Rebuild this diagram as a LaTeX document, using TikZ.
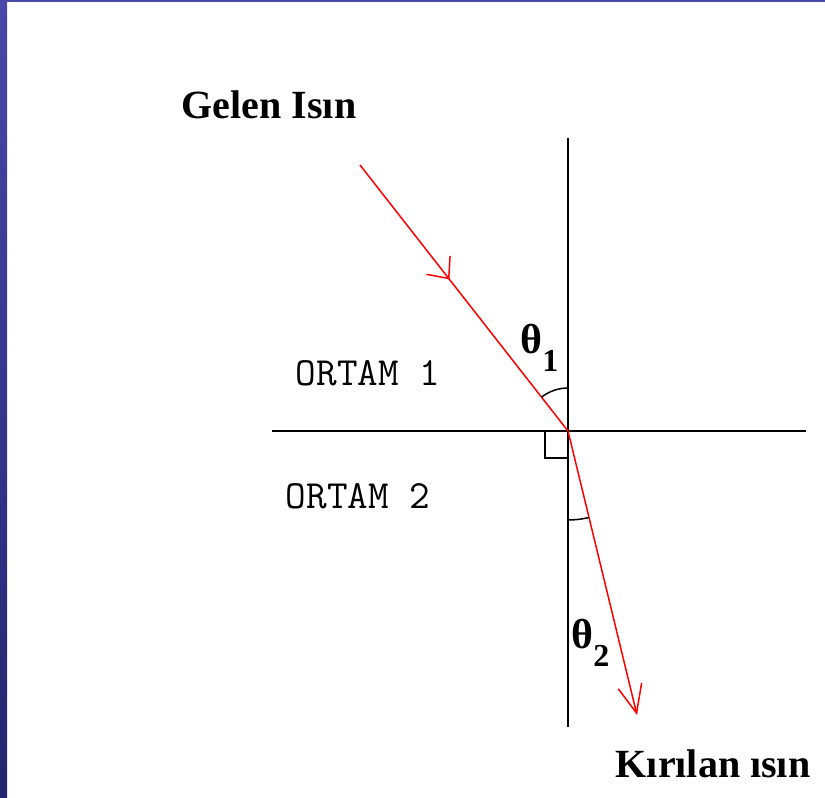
\documentclass[tikz,border=0pt]{standalone}
\usepackage{fontspec}
\setmainfont{Liberation Serif}
\usetikzlibrary{arrows.meta,decorations.markings,calc}
\definecolor{frameblue}{HTML}{4848A8}
\definecolor{framedark}{HTML}{242470}
\definecolor{rayred}{HTML}{FF0000}

\begin{document}
\begin{tikzpicture}[x=0.5pt,y=-0.5pt,
      bigtxt/.style={font=\fontsize{20}{22}\selectfont\bfseries,inner sep=0pt,anchor=base},
      medtxt/.style={font=\fontsize{20}{22}\selectfont\ttfamily,inner sep=0pt,anchor=base},
      angtxt/.style={font=\fontsize{21}{23}\selectfont\bfseries,inner sep=0pt,anchor=base west},
      axisline/.style={black,line width=1pt},
      ray/.style={rayred,line width=0.75pt},
      barb/.style={-{Straight Barb[length=14pt,width=12pt]}},
      midbarb/.style={postaction={decorate,decoration={markings,
                  mark=at position 0.43 with {\arrow{Straight Barb[length=8.5pt,width=15pt]}}}}},
      anglearc/.style={black,line width=0.75pt}]
    \useasboundingbox (0,0) rectangle (825,798);
    \fill[white] (0,0) rectangle (825,798);
    \shade[top color=frameblue,bottom color=framedark] (0,0) rectangle (7,798);
    \fill[frameblue] (0,0) rectangle (825,2);

    \coordinate (o) at (568,431);
    \coordinate (ntop) at (568,138);
    \coordinate (nbot) at (568,727);
    \coordinate (ileft) at (272,431);
    \coordinate (iright) at (806,431);
    \coordinate (src) at (360,165);
    \coordinate (dst) at (637,715);

    \draw[axisline] (ntop) -- (nbot);
    \draw[axisline] (ileft) -- (iright);
    \draw[axisline,line width=0.75pt] (545,431) |- (568,458);

    \draw[ray,midbarb] (src) -- (o);
    \draw[ray,barb] (o) -- (dst);

    \draw[anglearc] ($(o)+(0,-43)$) arc[start angle=270,end angle=232,radius=43];
    \draw[anglearc] ($(o)+(0,89)$) arc[start angle=90,end angle=76.3,radius=89];

    \node[bigtxt] (gelen) at (269,118) {Gelen Isın};
    \node[bigtxt] (kirilan) at (713,777) {Kırılan ısın};
    \node[medtxt] (ortam1) at (368,385) {ORTAM 1};
    \node[medtxt] (ortam2) at (358,508) {ORTAM 2};
    \node[angtxt] (theta1) at (520,353) {θ\raisebox{-9pt}{\fontsize{16}{16}\selectfont 1}};
    \node[angtxt] (theta2) at (571,648) {θ\raisebox{-9pt}{\fontsize{16}{16}\selectfont 2}};
  \end{tikzpicture}
\end{document}
